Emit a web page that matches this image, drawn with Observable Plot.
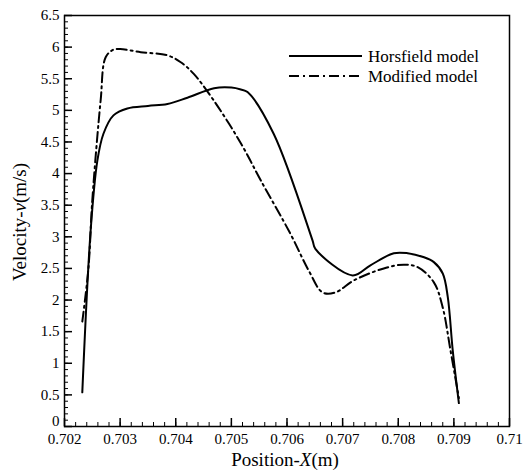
<!DOCTYPE html>
<html>
<head>
<meta charset="utf-8">
<script src="https://cdn.jsdelivr.net/npm/d3@7"></script>
<script src="https://cdn.jsdelivr.net/npm/@observablehq/plot@0.6"></script>
<style>
  html, body { margin: 0; padding: 0; background: #fff; }
  #chart svg { display: block; }
</style>
</head>
<body>
<div id="chart"></div>
<script>
// Horsfield model (solid)
const horsX = [0.70232, 0.70247, 0.70259, 0.70270, 0.70288, 0.70313, 0.70350, 0.70385, 0.70421, 0.70469, 0.70500, 0.70517, 0.70529, 0.70576, 0.70646, 0.70651, 0.70718, 0.70750, 0.70792, 0.70817, 0.70845, 0.70864, 0.70880, 0.70889, 0.70898, 0.70909];
const horsV = [0.54, 3.10, 4.20, 4.63, 4.92, 5.03, 5.07, 5.10, 5.20, 5.35, 5.36, 5.33, 5.29, 4.63, 2.94, 2.81, 2.39, 2.55, 2.74, 2.74, 2.68, 2.60, 2.42, 2.05, 1.20, 0.37];
// Modified model (dash-dot)
const modX = [0.70232, 0.70243, 0.70250, 0.70265, 0.70274, 0.70288, 0.70300, 0.70337, 0.70385, 0.70409, 0.70432, 0.70468, 0.70517, 0.70553, 0.70606, 0.70640, 0.70664, 0.70687, 0.70720, 0.70774, 0.70810, 0.70835, 0.70864, 0.70880, 0.70894, 0.70909];
const modV = [1.66, 2.50, 3.58, 5.16, 5.84, 5.96, 5.97, 5.92, 5.87, 5.76, 5.58, 5.16, 4.48, 3.89, 3.05, 2.45, 2.12, 2.12, 2.31, 2.50, 2.56, 2.52, 2.28, 1.88, 1.20, 0.45];

const seriesNames = ["Horsfield model", "Modified model"];
const xTicks = [0.702, 0.703, 0.704, 0.705, 0.706, 0.707, 0.708, 0.709, 0.71];
const yTicks = [0, 0.5, 1, 1.5, 2, 2.5, 3, 3.5, 4, 4.5, 5, 5.5, 6, 6.5];
const xMinor = d3.range(0, 41).map(i => +(0.702 + i * 0.0002).toFixed(4));
const yMinor = d3.range(0, 66).map(i => +(i * 0.1).toFixed(1));

const horsData = horsX.map((x, i) => ({x, v: horsV[i]}));
const modData = modX.map((x, i) => ({x, v: modV[i]}));
const fmt = d => String(+(+d).toFixed(4));

const font = "Liberation Serif, Times New Roman, serif";

const plot = Plot.plot({
  width: 523,
  height: 474,
  marginLeft: 64,
  marginRight: 14,
  marginTop: 15,
  marginBottom: 48,
  style: {fontFamily: font, fontSize: "15px", color: "#000", background: "#fff"},
  x: {domain: [0.702, 0.71]},
  y: {domain: [0, 6.5]},
  marks: [
    Plot.frame({stroke: "#000", strokeWidth: 1.5}),
    Plot.axisX(xMinor, {anchor: "bottom", tickSize: 4, dy: -4, text: null, label: null, strokeWidth: 1}),
    Plot.axisY(yMinor, {anchor: "left", tickSize: 4, dx: 4, text: null, label: null, strokeWidth: 1}),
    Plot.axisX(xTicks, {anchor: "bottom", tickSize: 8, dy: -8, text: null, label: null, strokeWidth: 1.5}),
    Plot.axisY(yTicks, {anchor: "left", tickSize: 8, dx: 8, text: null, label: null, strokeWidth: 1.5}),
    Plot.axisX(xTicks, {anchor: "bottom", tickSize: 0, tickPadding: 7, tickFormat: fmt, label: null, fontSize: 15}),
    Plot.axisY(yTicks.filter(d => d > 0), {anchor: "left", tickSize: 0, tickPadding: 5, tickFormat: fmt, label: null, fontSize: 15}),
    Plot.axisY(yTicks.filter(d => d === 0), {anchor: "left", tickSize: 0, tickPadding: 5, dy: -5, tickFormat: fmt, label: null, fontSize: 15}),
    Plot.line(horsData, {x: "x", y: "v", stroke: "#000", strokeWidth: 2, curve: "catmull-rom"}),
    Plot.line(modData, {x: "x", y: "v", stroke: "#000", strokeWidth: 2, strokeDasharray: "10,4,2,4", curve: "catmull-rom"})
  ]
});

document.getElementById("chart").appendChild(plot);

const svg = d3.select(plot);
const xt = svg.append("text")
  .attr("x", 285).attr("y", 466)
  .attr("text-anchor", "middle")
  .style("font-family", font).attr("font-size", 19).attr("fill", "#000");
xt.append("tspan").text("Position-");
xt.append("tspan").attr("font-style", "italic").text("X");
xt.append("tspan").text("(m)");

const yt = svg.append("text")
  .attr("transform", "translate(26,222) rotate(-90)")
  .attr("text-anchor", "middle")
  .style("font-family", font).attr("font-size", 19).attr("fill", "#000");
yt.append("tspan").text("Velocity-");
yt.append("tspan").attr("font-style", "italic").text("v");
yt.append("tspan").text("(m/s)");

const legend = svg.append("g").style("font-family", font).attr("font-size", 17);
const dashes = [null, "10,4,2,4"];
seriesNames.forEach((name, i) => {
  const y = 56 + i * 20;
  legend.append("line")
    .attr("x1", 289).attr("x2", 362).attr("y1", y).attr("y2", y)
    .attr("stroke", "#000").attr("stroke-width", 2)
    .attr("stroke-dasharray", dashes[i]);
  legend.append("text")
    .attr("x", 368).attr("y", y).attr("dy", "0.35em")
    .attr("text-anchor", "start")
    .attr("fill", "#000").text(name);
});
</script>
</body>
</html>
